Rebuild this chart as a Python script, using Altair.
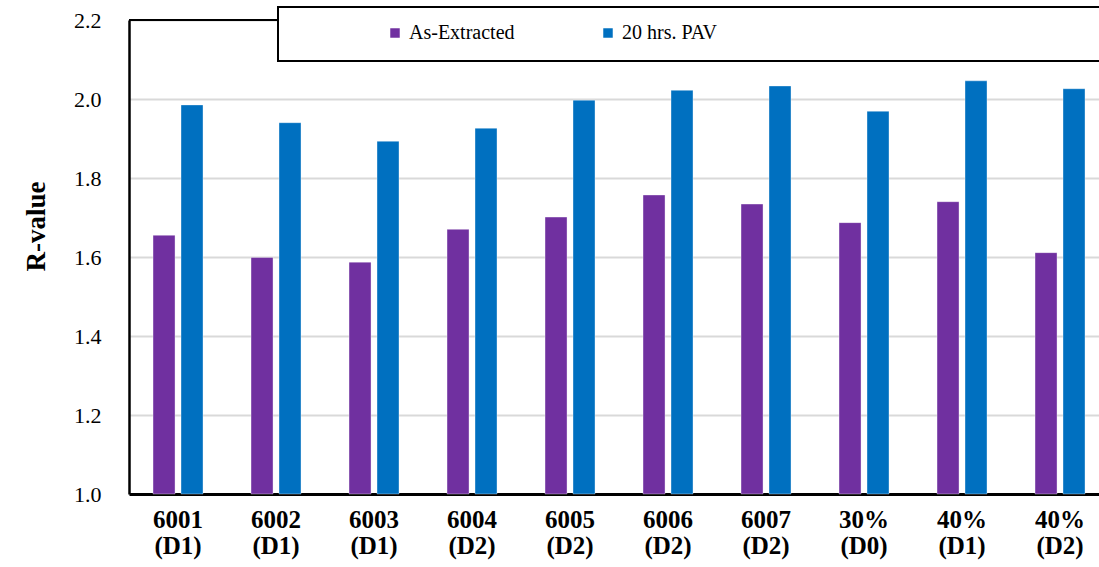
import altair as alt
import pandas as pd

# Sample labels (line break at the space) and R-values for the two aging states
categories = ["6001 (D1)", "6002 (D1)", "6003 (D1)", "6004 (D2)", "6005 (D2)",
              "6006 (D2)", "6007 (D2)", "30% (D0)", "40% (D1)", "40% (D2)"]
as_extracted = [1.655, 1.599, 1.587, 1.670, 1.701, 1.757, 1.734, 1.687, 1.740, 1.611]
pav_20h = [1.985, 1.940, 1.893, 1.926, 1.997, 2.022, 2.033, 1.969, 2.046, 2.026]
series_names = ["As-Extracted", "20 hrs. PAV"]
series_colors = ["#7030A0", "#0070C0"]
y_ticks = [1.0, 1.2, 1.4, 1.6, 1.8, 2.0, 2.2]

rows = []
for cat, a, p in zip(categories, as_extracted, pav_20h):
    rows.append({"sample": cat, "series": series_names[0], "r": a})
    rows.append({"sample": cat, "series": series_names[1], "r": p})
df = pd.DataFrame(rows)

W, H = 970, 474
SERIF = "Liberation Serif"

bars = alt.Chart(df).mark_bar(stroke="white", strokeWidth=0.6, strokeOpacity=0.6).encode(
    x=alt.X("sample:N", sort=categories, title=None,
            scale=alt.Scale(paddingInner=0.49, paddingOuter=0.194, align=0.632),
            axis=alt.Axis(labelExpr="split(datum.label, ' ')", labelAngle=0,
                          labelFont=SERIF, labelFontWeight="bold", labelFontSize=25,
                          labelColor="black", labelLineHeight=26, labelPadding=13,
                          ticks=False, domainColor="black", domainWidth=3)),
    xOffset=alt.XOffset("series:N", sort=series_names,
                        scale=alt.Scale(paddingInner=0.214, paddingOuter=0)),
    y=alt.Y("r:Q", title="R-value",
            scale=alt.Scale(domain=[1.0, 2.2], zero=False, nice=False),
            axis=alt.Axis(values=y_ticks, format=".1f", labelFont=SERIF, labelFontSize=22,
                          labelColor="black", labelPadding=28, ticks=False,
                          domainColor="black", domainWidth=2.5,
                          gridColor="#D9D9D9", gridWidth=2,
                          titleFont=SERIF, titleFontWeight="bold", titleFontSize=27,
                          titleColor="black", titleX=-79, titleY=206,
                          titleAngle=270, titleAlign="center", titleBaseline="bottom")),
    y2=alt.datum(1.0),
    color=alt.Color("series:N", sort=series_names,
                    scale=alt.Scale(domain=series_names, range=series_colors),
                    legend=alt.Legend(title=None, orient="none", direction="horizontal",
                                      legendX=256, legendY=3, symbolType="square",
                                      symbolSize=90, symbolStrokeWidth=0,
                                      labelFont=SERIF, labelFontSize=20, labelColor="black",
                                      labelOffset=4, columnPadding=83)),
)

# Black upper border of the plot area
top_line = alt.Chart(df).mark_rule(color="black", strokeWidth=2).encode(
    x=alt.value(0), x2=alt.value(W), y=alt.value(0)
)

# Framed box behind the legend
legend_box = alt.Chart(df).mark_rect(fill="white", stroke="black", strokeWidth=2).encode(
    x=alt.value(149), x2=alt.value(990), y=alt.value(-13), y2=alt.value(41)
)

chart = alt.layer(bars, top_line, legend_box).properties(
    width=W, height=H,
    autosize=alt.AutoSizeParams(type="none"),
    padding={"left": 129, "top": 20, "right": 0, "bottom": 73},
).configure_view(stroke=None).configure(background="white")

chart.save("out.html", embed_options={"renderer": "svg", "actions": False})
